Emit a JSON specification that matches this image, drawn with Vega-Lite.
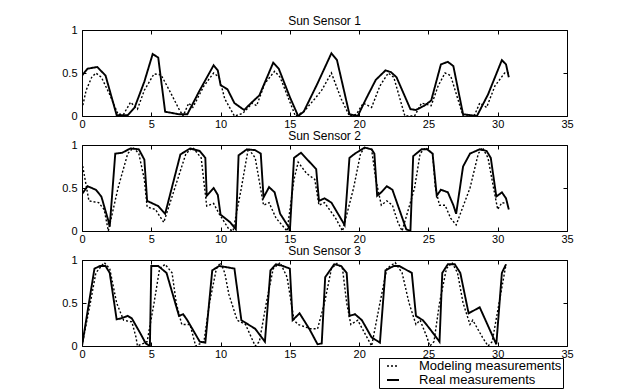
{
"$schema": "https://vega.github.io/schema/vega-lite/v6.json",
"background": "white",
"padding": {"left": 61, "top": 14, "right": 5, "bottom": 0},
"bounds": "flush",
"spacing": 29,
"config": {
  "font": "Liberation Sans",
  "view": {"stroke": "black", "strokeWidth": 1},
  "axis": {"grid": false, "domain": false, "tickColor": "black", "tickSize": -4, "labelColor": "black", "labelFontSize": 11, "labelFont": "Liberation Sans", "title": null, "labelFlush": false},
  "title": {"fontSize": 12, "fontWeight": "normal", "font": "Liberation Sans", "offset": 4, "dy": 8, "anchor": "middle", "color": "black"},
  "legend": {"strokeColor": "black", "fillColor": "white", "padding": 1, "labelFontSize": 13, "labelFont": "Liberation Sans", "labelColor": "black", "rowPadding": 0, "symbolType": "stroke", "symbolSize": 144, "symbolStrokeWidth": 1.5, "symbolStrokeColor": "black", "labelOffset": 19, "symbolOffset": 6, "title": null, "cornerRadius": 0}
},
"data": {"values": [
{"p":1,"k":"Real measurements","t":0,"v":0.47},{"p":1,"k":"Real measurements","t":0.4,"v":0.55},{"p":1,"k":"Real measurements","t":1.1,"v":0.57},{"p":1,"k":"Real measurements","t":1.7,"v":0.47},{"p":1,"k":"Real measurements","t":2.5,"v":0.01},{"p":1,"k":"Real measurements","t":3.3,"v":0.01},{"p":1,"k":"Real measurements","t":3.8,"v":0.1},{"p":1,"k":"Real measurements","t":4.5,"v":0.4},{"p":1,"k":"Real measurements","t":5.1,"v":0.72},{"p":1,"k":"Real measurements","t":5.5,"v":0.68},{"p":1,"k":"Real measurements","t":6.0,"v":0.05},{"p":1,"k":"Real measurements","t":7.0,"v":0.02},{"p":1,"k":"Real measurements","t":7.6,"v":0.02},{"p":1,"k":"Real measurements","t":8.5,"v":0.3},{"p":1,"k":"Real measurements","t":9.5,"v":0.59},{"p":1,"k":"Real measurements","t":9.8,"v":0.53},{"p":1,"k":"Real measurements","t":10.0,"v":0.36},{"p":1,"k":"Real measurements","t":10.5,"v":0.31},{"p":1,"k":"Real measurements","t":11.0,"v":0.15},{"p":1,"k":"Real measurements","t":11.7,"v":0.07},{"p":1,"k":"Real measurements","t":12.2,"v":0.15},{"p":1,"k":"Real measurements","t":12.8,"v":0.24},{"p":1,"k":"Real measurements","t":13.8,"v":0.62},{"p":1,"k":"Real measurements","t":14.2,"v":0.55},{"p":1,"k":"Real measurements","t":15.0,"v":0.22},{"p":1,"k":"Real measurements","t":15.6,"v":0.0},{"p":1,"k":"Real measurements","t":16.0,"v":0.05},{"p":1,"k":"Real measurements","t":17.0,"v":0.38},{"p":1,"k":"Real measurements","t":18.0,"v":0.73},{"p":1,"k":"Real measurements","t":18.4,"v":0.65},{"p":1,"k":"Real measurements","t":19.3,"v":0.02},{"p":1,"k":"Real measurements","t":19.9,"v":0.0},{"p":1,"k":"Real measurements","t":20.5,"v":0.2},{"p":1,"k":"Real measurements","t":21.2,"v":0.42},{"p":1,"k":"Real measurements","t":21.9,"v":0.53},{"p":1,"k":"Real measurements","t":22.3,"v":0.51},{"p":1,"k":"Real measurements","t":22.7,"v":0.45},{"p":1,"k":"Real measurements","t":23.7,"v":0.08},{"p":1,"k":"Real measurements","t":24.1,"v":0.07},{"p":1,"k":"Real measurements","t":24.7,"v":0.12},{"p":1,"k":"Real measurements","t":25.2,"v":0.18},{"p":1,"k":"Real measurements","t":25.9,"v":0.6},{"p":1,"k":"Real measurements","t":26.4,"v":0.63},{"p":1,"k":"Real measurements","t":26.8,"v":0.58},{"p":1,"k":"Real measurements","t":27.5,"v":0.02},{"p":1,"k":"Real measurements","t":28.5,"v":0.0},{"p":1,"k":"Real measurements","t":29.3,"v":0.25},{"p":1,"k":"Real measurements","t":30.3,"v":0.65},{"p":1,"k":"Real measurements","t":30.6,"v":0.6},{"p":1,"k":"Real measurements","t":30.8,"v":0.45},
{"p":1,"k":"Modeling measurements","t":0,"v":0.08},{"p":1,"k":"Modeling measurements","t":0.3,"v":0.3},{"p":1,"k":"Modeling measurements","t":0.7,"v":0.45},{"p":1,"k":"Modeling measurements","t":1.0,"v":0.5},{"p":1,"k":"Modeling measurements","t":1.4,"v":0.45},{"p":1,"k":"Modeling measurements","t":2.0,"v":0.25},{"p":1,"k":"Modeling measurements","t":2.6,"v":0.02},{"p":1,"k":"Modeling measurements","t":3.0,"v":0.02},{"p":1,"k":"Modeling measurements","t":3.5,"v":0.16},{"p":1,"k":"Modeling measurements","t":4.0,"v":0.08},{"p":1,"k":"Modeling measurements","t":4.5,"v":0.3},{"p":1,"k":"Modeling measurements","t":5.2,"v":0.49},{"p":1,"k":"Modeling measurements","t":5.7,"v":0.48},{"p":1,"k":"Modeling measurements","t":6.3,"v":0.3},{"p":1,"k":"Modeling measurements","t":7.0,"v":0.08},{"p":1,"k":"Modeling measurements","t":7.3,"v":0.0},{"p":1,"k":"Modeling measurements","t":7.7,"v":0.15},{"p":1,"k":"Modeling measurements","t":8.0,"v":0.1},{"p":1,"k":"Modeling measurements","t":8.8,"v":0.35},{"p":1,"k":"Modeling measurements","t":9.5,"v":0.5},{"p":1,"k":"Modeling measurements","t":9.9,"v":0.45},{"p":1,"k":"Modeling measurements","t":10.3,"v":0.2},{"p":1,"k":"Modeling measurements","t":11.0,"v":0.0},{"p":1,"k":"Modeling measurements","t":11.6,"v":0.03},{"p":1,"k":"Modeling measurements","t":12.3,"v":0.15},{"p":1,"k":"Modeling measurements","t":12.6,"v":0.12},{"p":1,"k":"Modeling measurements","t":13.2,"v":0.38},{"p":1,"k":"Modeling measurements","t":13.9,"v":0.52},{"p":1,"k":"Modeling measurements","t":14.3,"v":0.45},{"p":1,"k":"Modeling measurements","t":15.4,"v":0.0},{"p":1,"k":"Modeling measurements","t":16.0,"v":0.05},{"p":1,"k":"Modeling measurements","t":16.8,"v":0.2},{"p":1,"k":"Modeling measurements","t":17.3,"v":0.3},{"p":1,"k":"Modeling measurements","t":18.0,"v":0.5},{"p":1,"k":"Modeling measurements","t":18.7,"v":0.2},{"p":1,"k":"Modeling measurements","t":19.3,"v":0.0},{"p":1,"k":"Modeling measurements","t":19.8,"v":0.02},{"p":1,"k":"Modeling measurements","t":20.3,"v":0.15},{"p":1,"k":"Modeling measurements","t":20.9,"v":0.1},{"p":1,"k":"Modeling measurements","t":21.5,"v":0.35},{"p":1,"k":"Modeling measurements","t":22.1,"v":0.5},{"p":1,"k":"Modeling measurements","t":22.5,"v":0.45},{"p":1,"k":"Modeling measurements","t":23.3,"v":0.0},{"p":1,"k":"Modeling measurements","t":24.0,"v":0.0},{"p":1,"k":"Modeling measurements","t":24.5,"v":0.15},{"p":1,"k":"Modeling measurements","t":25.2,"v":0.12},{"p":1,"k":"Modeling measurements","t":25.7,"v":0.35},{"p":1,"k":"Modeling measurements","t":26.2,"v":0.5},{"p":1,"k":"Modeling measurements","t":26.6,"v":0.47},{"p":1,"k":"Modeling measurements","t":27.5,"v":0.0},{"p":1,"k":"Modeling measurements","t":28.3,"v":0.0},{"p":1,"k":"Modeling measurements","t":28.7,"v":0.15},{"p":1,"k":"Modeling measurements","t":29.2,"v":0.1},{"p":1,"k":"Modeling measurements","t":29.8,"v":0.35},{"p":1,"k":"Modeling measurements","t":30.5,"v":0.5},{"p":1,"k":"Modeling measurements","t":30.8,"v":0.5},
{"p":2,"k":"Real measurements","t":0,"v":0.43},{"p":2,"k":"Real measurements","t":0.4,"v":0.52},{"p":2,"k":"Real measurements","t":1.0,"v":0.48},{"p":2,"k":"Real measurements","t":1.4,"v":0.4},{"p":2,"k":"Real measurements","t":1.9,"v":0.12},{"p":2,"k":"Real measurements","t":2.0,"v":0.05},{"p":2,"k":"Real measurements","t":2.4,"v":0.9},{"p":2,"k":"Real measurements","t":2.9,"v":0.91},{"p":2,"k":"Real measurements","t":3.5,"v":0.96},{"p":2,"k":"Real measurements","t":4.1,"v":0.95},{"p":2,"k":"Real measurements","t":4.5,"v":0.83},{"p":2,"k":"Real measurements","t":4.7,"v":0.35},{"p":2,"k":"Real measurements","t":5.5,"v":0.29},{"p":2,"k":"Real measurements","t":6.0,"v":0.2},{"p":2,"k":"Real measurements","t":7.1,"v":0.89},{"p":2,"k":"Real measurements","t":7.8,"v":0.96},{"p":2,"k":"Real measurements","t":8.5,"v":0.93},{"p":2,"k":"Real measurements","t":8.9,"v":0.85},{"p":2,"k":"Real measurements","t":9.0,"v":0.41},{"p":2,"k":"Real measurements","t":9.5,"v":0.5},{"p":2,"k":"Real measurements","t":9.8,"v":0.42},{"p":2,"k":"Real measurements","t":10.0,"v":0.19},{"p":2,"k":"Real measurements","t":10.7,"v":0.1},{"p":2,"k":"Real measurements","t":11.1,"v":0.02},{"p":2,"k":"Real measurements","t":11.3,"v":0.88},{"p":2,"k":"Real measurements","t":11.9,"v":0.95},{"p":2,"k":"Real measurements","t":12.5,"v":0.94},{"p":2,"k":"Real measurements","t":12.9,"v":0.9},{"p":2,"k":"Real measurements","t":13.1,"v":0.39},{"p":2,"k":"Real measurements","t":13.5,"v":0.51},{"p":2,"k":"Real measurements","t":13.9,"v":0.45},{"p":2,"k":"Real measurements","t":14.3,"v":0.2},{"p":2,"k":"Real measurements","t":14.9,"v":0.05},{"p":2,"k":"Real measurements","t":15.0,"v":0.0},{"p":2,"k":"Real measurements","t":15.3,"v":0.85},{"p":2,"k":"Real measurements","t":15.8,"v":0.91},{"p":2,"k":"Real measurements","t":16.9,"v":0.72},{"p":2,"k":"Real measurements","t":17.1,"v":0.35},{"p":2,"k":"Real measurements","t":17.5,"v":0.38},{"p":2,"k":"Real measurements","t":18.0,"v":0.33},{"p":2,"k":"Real measurements","t":18.95,"v":0.07},{"p":2,"k":"Real measurements","t":19.3,"v":0.85},{"p":2,"k":"Real measurements","t":19.7,"v":0.9},{"p":2,"k":"Real measurements","t":20.4,"v":0.97},{"p":2,"k":"Real measurements","t":20.9,"v":0.95},{"p":2,"k":"Real measurements","t":21.1,"v":0.9},{"p":2,"k":"Real measurements","t":21.3,"v":0.41},{"p":2,"k":"Real measurements","t":21.6,"v":0.45},{"p":2,"k":"Real measurements","t":22.0,"v":0.52},{"p":2,"k":"Real measurements","t":22.4,"v":0.48},{"p":2,"k":"Real measurements","t":22.9,"v":0.25},{"p":2,"k":"Real measurements","t":23.4,"v":0.02},{"p":2,"k":"Real measurements","t":23.7,"v":0.0},{"p":2,"k":"Real measurements","t":23.9,"v":0.87},{"p":2,"k":"Real measurements","t":24.5,"v":0.95},{"p":2,"k":"Real measurements","t":24.9,"v":0.95},{"p":2,"k":"Real measurements","t":25.3,"v":0.9},{"p":2,"k":"Real measurements","t":25.6,"v":0.41},{"p":2,"k":"Real measurements","t":25.9,"v":0.48},{"p":2,"k":"Real measurements","t":26.4,"v":0.45},{"p":2,"k":"Real measurements","t":26.8,"v":0.3},{"p":2,"k":"Real measurements","t":27.0,"v":0.2},{"p":2,"k":"Real measurements","t":27.5,"v":0.75},{"p":2,"k":"Real measurements","t":28.0,"v":0.9},{"p":2,"k":"Real measurements","t":28.7,"v":0.95},{"p":2,"k":"Real measurements","t":29.2,"v":0.93},{"p":2,"k":"Real measurements","t":29.5,"v":0.85},{"p":2,"k":"Real measurements","t":29.9,"v":0.4},{"p":2,"k":"Real measurements","t":30.3,"v":0.45},{"p":2,"k":"Real measurements","t":30.6,"v":0.38},{"p":2,"k":"Real measurements","t":30.8,"v":0.25},
{"p":2,"k":"Modeling measurements","t":0,"v":0.8},{"p":2,"k":"Modeling measurements","t":0.5,"v":0.35},{"p":2,"k":"Modeling measurements","t":1.2,"v":0.33},{"p":2,"k":"Modeling measurements","t":1.6,"v":0.25},{"p":2,"k":"Modeling measurements","t":1.9,"v":0.0},{"p":2,"k":"Modeling measurements","t":2.6,"v":0.5},{"p":2,"k":"Modeling measurements","t":3.3,"v":0.9},{"p":2,"k":"Modeling measurements","t":3.7,"v":0.97},{"p":2,"k":"Modeling measurements","t":4.1,"v":0.9},{"p":2,"k":"Modeling measurements","t":4.5,"v":0.6},{"p":2,"k":"Modeling measurements","t":4.7,"v":0.28},{"p":2,"k":"Modeling measurements","t":5.3,"v":0.25},{"p":2,"k":"Modeling measurements","t":5.9,"v":0.1},{"p":2,"k":"Modeling measurements","t":6.7,"v":0.5},{"p":2,"k":"Modeling measurements","t":7.5,"v":0.9},{"p":2,"k":"Modeling measurements","t":8.0,"v":0.97},{"p":2,"k":"Modeling measurements","t":8.6,"v":0.85},{"p":2,"k":"Modeling measurements","t":9.0,"v":0.29},{"p":2,"k":"Modeling measurements","t":9.5,"v":0.32},{"p":2,"k":"Modeling measurements","t":9.9,"v":0.2},{"p":2,"k":"Modeling measurements","t":10.6,"v":0.02},{"p":2,"k":"Modeling measurements","t":10.9,"v":0.0},{"p":2,"k":"Modeling measurements","t":11.5,"v":0.5},{"p":2,"k":"Modeling measurements","t":12.0,"v":0.96},{"p":2,"k":"Modeling measurements","t":12.5,"v":0.85},{"p":2,"k":"Modeling measurements","t":13.1,"v":0.3},{"p":2,"k":"Modeling measurements","t":13.5,"v":0.33},{"p":2,"k":"Modeling measurements","t":14.0,"v":0.15},{"p":2,"k":"Modeling measurements","t":14.8,"v":0.0},{"p":2,"k":"Modeling measurements","t":15.3,"v":0.6},{"p":2,"k":"Modeling measurements","t":15.6,"v":0.8},{"p":2,"k":"Modeling measurements","t":16.2,"v":0.67},{"p":2,"k":"Modeling measurements","t":16.8,"v":0.6},{"p":2,"k":"Modeling measurements","t":17.1,"v":0.3},{"p":2,"k":"Modeling measurements","t":17.5,"v":0.33},{"p":2,"k":"Modeling measurements","t":18.3,"v":0.15},{"p":2,"k":"Modeling measurements","t":18.8,"v":0.0},{"p":2,"k":"Modeling measurements","t":19.6,"v":0.5},{"p":2,"k":"Modeling measurements","t":20.1,"v":0.9},{"p":2,"k":"Modeling measurements","t":20.4,"v":0.97},{"p":2,"k":"Modeling measurements","t":20.9,"v":0.95},{"p":2,"k":"Modeling measurements","t":21.2,"v":0.6},{"p":2,"k":"Modeling measurements","t":21.6,"v":0.3},{"p":2,"k":"Modeling measurements","t":22.0,"v":0.35},{"p":2,"k":"Modeling measurements","t":22.4,"v":0.3},{"p":2,"k":"Modeling measurements","t":22.8,"v":0.1},{"p":2,"k":"Modeling measurements","t":23.1,"v":0.0},{"p":2,"k":"Modeling measurements","t":24.0,"v":0.5},{"p":2,"k":"Modeling measurements","t":24.4,"v":0.9},{"p":2,"k":"Modeling measurements","t":24.8,"v":0.97},{"p":2,"k":"Modeling measurements","t":25.3,"v":0.9},{"p":2,"k":"Modeling measurements","t":25.5,"v":0.5},{"p":2,"k":"Modeling measurements","t":25.8,"v":0.3},{"p":2,"k":"Modeling measurements","t":26.2,"v":0.3},{"p":2,"k":"Modeling measurements","t":26.6,"v":0.15},{"p":2,"k":"Modeling measurements","t":27.0,"v":0.07},{"p":2,"k":"Modeling measurements","t":28.0,"v":0.5},{"p":2,"k":"Modeling measurements","t":28.6,"v":0.9},{"p":2,"k":"Modeling measurements","t":28.9,"v":0.97},{"p":2,"k":"Modeling measurements","t":29.3,"v":0.85},{"p":2,"k":"Modeling measurements","t":29.7,"v":0.5},{"p":2,"k":"Modeling measurements","t":30.0,"v":0.25},{"p":2,"k":"Modeling measurements","t":30.3,"v":0.33},{"p":2,"k":"Modeling measurements","t":30.6,"v":0.32},
{"p":3,"k":"Real measurements","t":0,"v":0.0},{"p":3,"k":"Real measurements","t":0.9,"v":0.9},{"p":3,"k":"Real measurements","t":1.3,"v":0.93},{"p":3,"k":"Real measurements","t":1.7,"v":0.93},{"p":3,"k":"Real measurements","t":2.0,"v":0.85},{"p":3,"k":"Real measurements","t":2.5,"v":0.31},{"p":3,"k":"Real measurements","t":2.8,"v":0.32},{"p":3,"k":"Real measurements","t":3.3,"v":0.35},{"p":3,"k":"Real measurements","t":3.6,"v":0.32},{"p":3,"k":"Real measurements","t":4.2,"v":0.15},{"p":3,"k":"Real measurements","t":4.6,"v":0.03},{"p":3,"k":"Real measurements","t":4.9,"v":0.0},{"p":3,"k":"Real measurements","t":5.0,"v":0.93},{"p":3,"k":"Real measurements","t":5.5,"v":0.93},{"p":3,"k":"Real measurements","t":6.1,"v":0.85},{"p":3,"k":"Real measurements","t":7.0,"v":0.35},{"p":3,"k":"Real measurements","t":7.3,"v":0.37},{"p":3,"k":"Real measurements","t":7.6,"v":0.3},{"p":3,"k":"Real measurements","t":8.5,"v":0.05},{"p":3,"k":"Real measurements","t":8.9,"v":0.04},{"p":3,"k":"Real measurements","t":9.4,"v":0.88},{"p":3,"k":"Real measurements","t":9.9,"v":0.93},{"p":3,"k":"Real measurements","t":10.3,"v":0.92},{"p":3,"k":"Real measurements","t":11.0,"v":0.9},{"p":3,"k":"Real measurements","t":11.5,"v":0.3},{"p":3,"k":"Real measurements","t":12.0,"v":0.25},{"p":3,"k":"Real measurements","t":12.5,"v":0.2},{"p":3,"k":"Real measurements","t":13.2,"v":0.05},{"p":3,"k":"Real measurements","t":13.6,"v":0.88},{"p":3,"k":"Real measurements","t":14.0,"v":0.95},{"p":3,"k":"Real measurements","t":14.5,"v":0.93},{"p":3,"k":"Real measurements","t":15.0,"v":0.9},{"p":3,"k":"Real measurements","t":15.2,"v":0.3},{"p":3,"k":"Real measurements","t":15.7,"v":0.38},{"p":3,"k":"Real measurements","t":16.4,"v":0.2},{"p":3,"k":"Real measurements","t":17.0,"v":0.02},{"p":3,"k":"Real measurements","t":17.3,"v":0.03},{"p":3,"k":"Real measurements","t":17.55,"v":0.8},{"p":3,"k":"Real measurements","t":18.2,"v":0.95},{"p":3,"k":"Real measurements","t":18.7,"v":0.93},{"p":3,"k":"Real measurements","t":19.1,"v":0.85},{"p":3,"k":"Real measurements","t":19.3,"v":0.35},{"p":3,"k":"Real measurements","t":19.7,"v":0.37},{"p":3,"k":"Real measurements","t":20.2,"v":0.3},{"p":3,"k":"Real measurements","t":20.9,"v":0.1},{"p":3,"k":"Real measurements","t":21.5,"v":0.04},{"p":3,"k":"Real measurements","t":21.9,"v":0.88},{"p":3,"k":"Real measurements","t":22.5,"v":0.93},{"p":3,"k":"Real measurements","t":22.9,"v":0.93},{"p":3,"k":"Real measurements","t":23.8,"v":0.85},{"p":3,"k":"Real measurements","t":24.1,"v":0.35},{"p":3,"k":"Real measurements","t":24.6,"v":0.3},{"p":3,"k":"Real measurements","t":25.1,"v":0.2},{"p":3,"k":"Real measurements","t":25.8,"v":0.05},{"p":3,"k":"Real measurements","t":26.0,"v":0.85},{"p":3,"k":"Real measurements","t":26.4,"v":0.95},{"p":3,"k":"Real measurements","t":26.9,"v":0.95},{"p":3,"k":"Real measurements","t":27.3,"v":0.85},{"p":3,"k":"Real measurements","t":27.9,"v":0.38},{"p":3,"k":"Real measurements","t":28.7,"v":0.45},{"p":3,"k":"Real measurements","t":29.9,"v":0.02},{"p":3,"k":"Real measurements","t":30.3,"v":0.85},{"p":3,"k":"Real measurements","t":30.6,"v":0.95},
{"p":3,"k":"Modeling measurements","t":0,"v":0.0},{"p":3,"k":"Modeling measurements","t":0.6,"v":0.5},{"p":3,"k":"Modeling measurements","t":1.0,"v":0.85},{"p":3,"k":"Modeling measurements","t":1.6,"v":0.97},{"p":3,"k":"Modeling measurements","t":2.0,"v":0.9},{"p":3,"k":"Modeling measurements","t":2.5,"v":0.5},{"p":3,"k":"Modeling measurements","t":3.0,"v":0.3},{"p":3,"k":"Modeling measurements","t":3.6,"v":0.28},{"p":3,"k":"Modeling measurements","t":3.9,"v":0.1},{"p":3,"k":"Modeling measurements","t":4.0,"v":0.0},{"p":3,"k":"Modeling measurements","t":4.7,"v":0.05},{"p":3,"k":"Modeling measurements","t":5.2,"v":0.5},{"p":3,"k":"Modeling measurements","t":5.6,"v":0.9},{"p":3,"k":"Modeling measurements","t":6.0,"v":0.95},{"p":3,"k":"Modeling measurements","t":6.5,"v":0.85},{"p":3,"k":"Modeling measurements","t":6.8,"v":0.5},{"p":3,"k":"Modeling measurements","t":7.2,"v":0.25},{"p":3,"k":"Modeling measurements","t":7.8,"v":0.25},{"p":3,"k":"Modeling measurements","t":8.2,"v":0.0},{"p":3,"k":"Modeling measurements","t":8.8,"v":0.05},{"p":3,"k":"Modeling measurements","t":9.2,"v":0.5},{"p":3,"k":"Modeling measurements","t":9.7,"v":0.9},{"p":3,"k":"Modeling measurements","t":10.0,"v":0.97},{"p":3,"k":"Modeling measurements","t":10.3,"v":0.85},{"p":3,"k":"Modeling measurements","t":10.6,"v":0.6},{"p":3,"k":"Modeling measurements","t":11.2,"v":0.3},{"p":3,"k":"Modeling measurements","t":11.8,"v":0.25},{"p":3,"k":"Modeling measurements","t":12.5,"v":0.0},{"p":3,"k":"Modeling measurements","t":12.8,"v":0.05},{"p":3,"k":"Modeling measurements","t":13.3,"v":0.5},{"p":3,"k":"Modeling measurements","t":13.8,"v":0.9},{"p":3,"k":"Modeling measurements","t":14.3,"v":0.97},{"p":3,"k":"Modeling measurements","t":14.8,"v":0.8},{"p":3,"k":"Modeling measurements","t":15.3,"v":0.3},{"p":3,"k":"Modeling measurements","t":15.6,"v":0.25},{"p":3,"k":"Modeling measurements","t":16.5,"v":0.2},{"p":3,"k":"Modeling measurements","t":17.0,"v":0.2},{"p":3,"k":"Modeling measurements","t":17.5,"v":0.5},{"p":3,"k":"Modeling measurements","t":18.0,"v":0.9},{"p":3,"k":"Modeling measurements","t":18.4,"v":0.96},{"p":3,"k":"Modeling measurements","t":18.8,"v":0.9},{"p":3,"k":"Modeling measurements","t":19.1,"v":0.5},{"p":3,"k":"Modeling measurements","t":19.4,"v":0.25},{"p":3,"k":"Modeling measurements","t":19.9,"v":0.3},{"p":3,"k":"Modeling measurements","t":20.4,"v":0.15},{"p":3,"k":"Modeling measurements","t":20.9,"v":0.0},{"p":3,"k":"Modeling measurements","t":21.5,"v":0.5},{"p":3,"k":"Modeling measurements","t":22.0,"v":0.9},{"p":3,"k":"Modeling measurements","t":22.6,"v":0.97},{"p":3,"k":"Modeling measurements","t":23.1,"v":0.85},{"p":3,"k":"Modeling measurements","t":23.6,"v":0.5},{"p":3,"k":"Modeling measurements","t":24.1,"v":0.25},{"p":3,"k":"Modeling measurements","t":24.4,"v":0.3},{"p":3,"k":"Modeling measurements","t":24.9,"v":0.1},{"p":3,"k":"Modeling measurements","t":25.1,"v":0.0},{"p":3,"k":"Modeling measurements","t":25.4,"v":0.05},{"p":3,"k":"Modeling measurements","t":25.8,"v":0.5},{"p":3,"k":"Modeling measurements","t":26.3,"v":0.9},{"p":3,"k":"Modeling measurements","t":26.7,"v":0.97},{"p":3,"k":"Modeling measurements","t":27.1,"v":0.85},{"p":3,"k":"Modeling measurements","t":27.5,"v":0.5},{"p":3,"k":"Modeling measurements","t":28.0,"v":0.25},{"p":3,"k":"Modeling measurements","t":28.2,"v":0.3},{"p":3,"k":"Modeling measurements","t":28.9,"v":0.1},{"p":3,"k":"Modeling measurements","t":29.3,"v":0.0},{"p":3,"k":"Modeling measurements","t":29.6,"v":0.05},{"p":3,"k":"Modeling measurements","t":30.1,"v":0.5},{"p":3,"k":"Modeling measurements","t":30.6,"v":0.95}
]},
"resolve": {"legend": {"strokeDash": "independent", "strokeWidth": "independent"}},
"vconcat": [
 {"title": "Sun Sensor 1", "width": 485, "height": 86,
  "transform": [{"filter": "datum.p == 1"}],
  "layer": [
   {"mark": {"type": "line", "color": "black", "clip": true},
    "encoding": {
     "x": {"field": "t", "type": "quantitative", "scale": {"domain": [0, 35], "nice": false}, "axis": {"orient": "bottom", "values": [0,5,10,15,20,25,30,35], "labelPadding": 6}},
     "y": {"field": "v", "type": "quantitative", "scale": {"domain": [0, 1], "nice": false}, "axis": {"orient": "left", "values": [0,0.5,1], "format": "~g", "labelPadding": 9}},
     "strokeDash": {"field": "k", "type": "nominal", "scale": {"domain": ["Modeling measurements","Real measurements"], "range": [[2,2],[1,0]]}, "legend": null},
     "strokeWidth": {"field": "k", "type": "nominal", "scale": {"domain": ["Modeling measurements","Real measurements"], "range": [1.4,1.9]}, "legend": null}}},
   {"mark": {"type": "line", "opacity": 0},
    "encoding": {
     "x": {"field": "t", "type": "quantitative", "axis": {"orient": "top", "values": [0,5,10,15,20,25,30,35], "labels": false, "minExtent": 0, "maxExtent": 0}},
     "y": {"field": "v", "type": "quantitative", "axis": {"orient": "right", "values": [0,0.5,1], "labels": false, "minExtent": 0, "maxExtent": 0}}}}
  ],
  "resolve": {"axis": {"x": "independent", "y": "independent"}}},
 {"title": "Sun Sensor 2", "width": 485, "height": 86,
  "transform": [{"filter": "datum.p == 2"}],
  "layer": [
   {"mark": {"type": "line", "color": "black", "clip": true},
    "encoding": {
     "x": {"field": "t", "type": "quantitative", "scale": {"domain": [0, 35], "nice": false}, "axis": {"orient": "bottom", "values": [0,5,10,15,20,25,30,35], "labelPadding": 6}},
     "y": {"field": "v", "type": "quantitative", "scale": {"domain": [0, 1], "nice": false}, "axis": {"orient": "left", "values": [0,0.5,1], "format": "~g", "labelPadding": 9}},
     "strokeDash": {"field": "k", "type": "nominal", "scale": {"domain": ["Modeling measurements","Real measurements"], "range": [[2,2],[1,0]]}, "legend": null},
     "strokeWidth": {"field": "k", "type": "nominal", "scale": {"domain": ["Modeling measurements","Real measurements"], "range": [1.4,1.9]}, "legend": null}}},
   {"mark": {"type": "line", "opacity": 0},
    "encoding": {
     "x": {"field": "t", "type": "quantitative", "axis": {"orient": "top", "values": [0,5,10,15,20,25,30,35], "labels": false, "minExtent": 0, "maxExtent": 0}},
     "y": {"field": "v", "type": "quantitative", "axis": {"orient": "right", "values": [0,0.5,1], "labels": false, "minExtent": 0, "maxExtent": 0}}}}
  ],
  "resolve": {"axis": {"x": "independent", "y": "independent"}}},
 {"title": "Sun Sensor 3", "width": 485, "height": 86,
  "transform": [{"filter": "datum.p == 3"}],
  "layer": [
   {"mark": {"type": "line", "color": "black", "clip": true},
    "encoding": {
     "x": {"field": "t", "type": "quantitative", "scale": {"domain": [0, 35], "nice": false}, "axis": {"orient": "bottom", "values": [0,5,10,15,20,25,30,35], "labelPadding": 6}},
     "y": {"field": "v", "type": "quantitative", "scale": {"domain": [0, 1], "nice": false}, "axis": {"orient": "left", "values": [0,0.5,1], "format": "~g", "labelPadding": 9}},
     "strokeDash": {"field": "k", "type": "nominal", "scale": {"domain": ["Modeling measurements","Real measurements"], "range": [[2,2],[1,0]]}, "legend": {"orient": "none", "legendX": 297, "legendY": 98}},
     "strokeWidth": {"field": "k", "type": "nominal", "scale": {"domain": ["Modeling measurements","Real measurements"], "range": [1.4,1.9]}, "legend": null}}},
   {"mark": {"type": "line", "opacity": 0},
    "encoding": {
     "x": {"field": "t", "type": "quantitative", "axis": {"orient": "top", "values": [0,5,10,15,20,25,30,35], "labels": false, "minExtent": 0, "maxExtent": 0}},
     "y": {"field": "v", "type": "quantitative", "axis": {"orient": "right", "values": [0,0.5,1], "labels": false, "minExtent": 0, "maxExtent": 0}}}}
  ],
  "resolve": {"axis": {"x": "independent", "y": "independent"}}}
]
}
